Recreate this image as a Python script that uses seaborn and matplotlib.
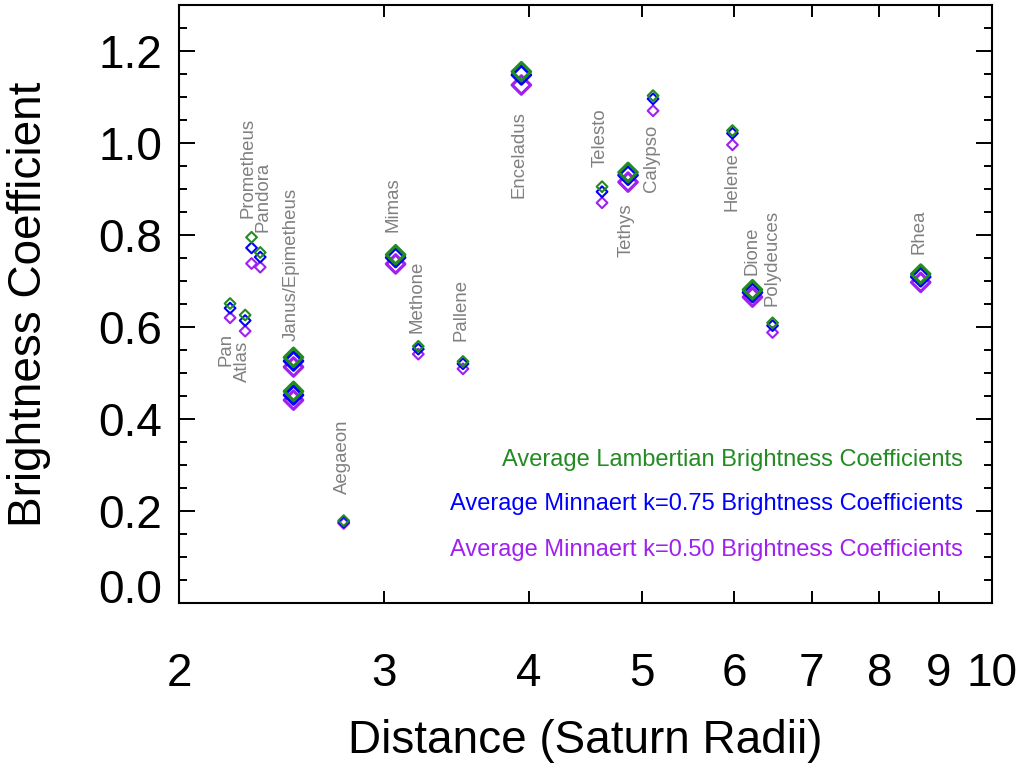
import numpy as np
import pandas as pd
import matplotlib
matplotlib.use("Agg")
import matplotlib.pyplot as plt
import seaborn as sns
from matplotlib.ticker import FixedLocator, FixedFormatter, NullLocator, MultipleLocator, FormatStrFormatter

# ---------------- data ----------------
moons = ["Pan", "Atlas", "Prometheus", "Pandora", "Janus", "Epimetheus", "Aegaeon",
         "Mimas", "Methone", "Pallene", "Enceladus", "Telesto", "Tethys", "Calypso",
         "Helene", "Dione", "Polydeuces", "Rhea"]
distance = [2.213, 2.280, 2.309, 2.349, 2.509, 2.509, 2.771,
            3.071, 3.212, 3.509, 3.939, 4.621, 4.865, 5.112,
            5.982, 6.224, 6.476, 8.683]
lambert = [0.651, 0.626, 0.795, 0.762, 0.534, 0.460, 0.179,
           0.757, 0.558, 0.525, 1.155, 0.905, 0.936, 1.103,
           1.027, 0.681, 0.609, 0.715]
minnaert_075 = [0.641, 0.614, 0.772, 0.752, 0.526, 0.452, 0.176,
                0.751, 0.552, 0.520, 1.148, 0.894, 0.930, 1.096,
                1.021, 0.675, 0.603, 0.709]
minnaert_050 = [0.620, 0.591, 0.738, 0.730, 0.513, 0.441, 0.173,
                0.737, 0.541, 0.509, 1.126, 0.870, 0.915, 1.070,
                0.996, 0.665, 0.588, 0.697]
moon_class = ["minor", "minor", "minor", "minor", "major", "major", "minor",
              "major", "minor", "minor", "major", "minor", "major", "minor",
              "minor", "major", "minor", "major"]

label_text = ["Pan", "Atlas", "Prometheus", "Pandora", "Janus/Epimetheus", "Aegaeon",
              "Mimas", "Methone", "Pallene", "Enceladus", "Telesto", "Tethys",
              "Calypso", "Helene", "Dione", "Polydeuces", "Rhea"]
label_x = [2.196, 2.269, 2.292, 2.364, 2.498, 2.763, 3.055, 3.203, 3.498, 3.921,
           4.600, 4.850, 5.096, 5.971, 6.212, 6.463, 8.659]
label_y = [0.516, 0.480, 0.836, 0.807, 0.570, 0.237, 0.806, 0.588, 0.570, 0.880,
           0.947, 0.752, 0.893, 0.853, 0.712, 0.646, 0.759]

series_names = ["Average Lambertian Brightness Coefficients",
                "Average Minnaert k=0.75 Brightness Coefficients",
                "Average Minnaert k=0.50 Brightness Coefficients"]
x_ticks = [2, 3, 4, 5, 6, 7, 8, 9, 10]
x_ticklabels = ["2", "3", "4", "5", "6", "7", "8", "9", "10"]

# ---------------- style ----------------
sns.set_theme(style="ticks")
plt.rcParams["font.family"] = ["Liberation Sans", "DejaVu Sans"]
plt.rcParams["text.color"] = "black"
plt.rcParams["axes.labelcolor"] = "black"
plt.rcParams["xtick.color"] = "black"
plt.rcParams["ytick.color"] = "black"

GREEN = "#228B22"
BLUE = "#0000FF"
PURPLE = "#A020F0"
GRAY = "#808080"

df = pd.DataFrame({"moon": moons, "distance": distance, "klass": moon_class,
                   series_names[0]: lambert, series_names[1]: minnaert_075,
                   series_names[2]: minnaert_050})
long = df.melt(id_vars=["moon", "distance", "klass"], value_vars=series_names,
               var_name="series", value_name="coef")

fig = plt.figure(figsize=(10.18, 7.69), dpi=100)
ax = fig.add_axes([0.1758, 0.2159, 0.7987, 0.7776])

sizes = {"major": 88, "minor": 30}
lws = {"major": 2.3, "minor": 1.5}
for name, color in [(series_names[2], PURPLE), (series_names[1], BLUE), (series_names[0], GREEN)]:
    sub = long[long["series"] == name]
    sns.scatterplot(data=sub, x="distance", y="coef", size="klass", sizes=sizes,
                    size_order=["major", "minor"], marker="D", color=color,
                    legend=False, ax=ax, zorder=3)
    coll = ax.collections[-1]
    coll.set_facecolor("none")
    coll.set_edgecolor(color)
    coll.set_linewidths([lws[k] for k in sub["klass"]])

for t, lx, ly in zip(label_text, label_x, label_y):
    ax.text(lx, ly, t, rotation=90, ha="center", va="bottom", color=GRAY,
            fontsize=13.4, zorder=4)

for name, color, yy in zip(series_names, [GREEN, BLUE, PURPLE], [0.2395, 0.1655, 0.0885]):
    ax.text(0.9645, yy, name, transform=ax.transAxes, ha="right", va="center",
            color=color, fontsize=17)

ax.set_xscale("log")
ax.set_xlim(2, 10)
ax.set_ylim(0, 1.3)
ax.xaxis.set_major_locator(FixedLocator(x_ticks))
ax.xaxis.set_major_formatter(FixedFormatter(x_ticklabels))
ax.xaxis.set_minor_locator(NullLocator())
ax.yaxis.set_major_locator(MultipleLocator(0.2))
ax.yaxis.set_minor_locator(MultipleLocator(0.05))
ax.yaxis.set_major_formatter(FormatStrFormatter("%.1f"))

for s in ax.spines.values():
    s.set_linewidth(1.5)
    s.set_color("black")

ax.tick_params(axis="both", which="both", direction="in", colors="black", width=1.4)
ax.tick_params(axis="y", which="major", length=11.5, labelsize=33, pad=12,
               left=True, right=True)
ax.tick_params(axis="y", which="minor", length=5.8, left=True, right=True)
ax.tick_params(axis="x", which="major", length=8.6, labelsize=33, pad=35,
               top=True, bottom=True)

ax.set_xlabel("Distance (Saturn Radii)", fontsize=33, labelpad=17, color="black")
ax.set_ylabel("Brightness Coefficient", fontsize=33, labelpad=34, color="black")

fig.canvas.draw()
for lb in ax.get_yticklabels():
    if lb.get_text() == "0.0":
        lb.set_verticalalignment("baseline")

fig.savefig("out.png", dpi=100)
